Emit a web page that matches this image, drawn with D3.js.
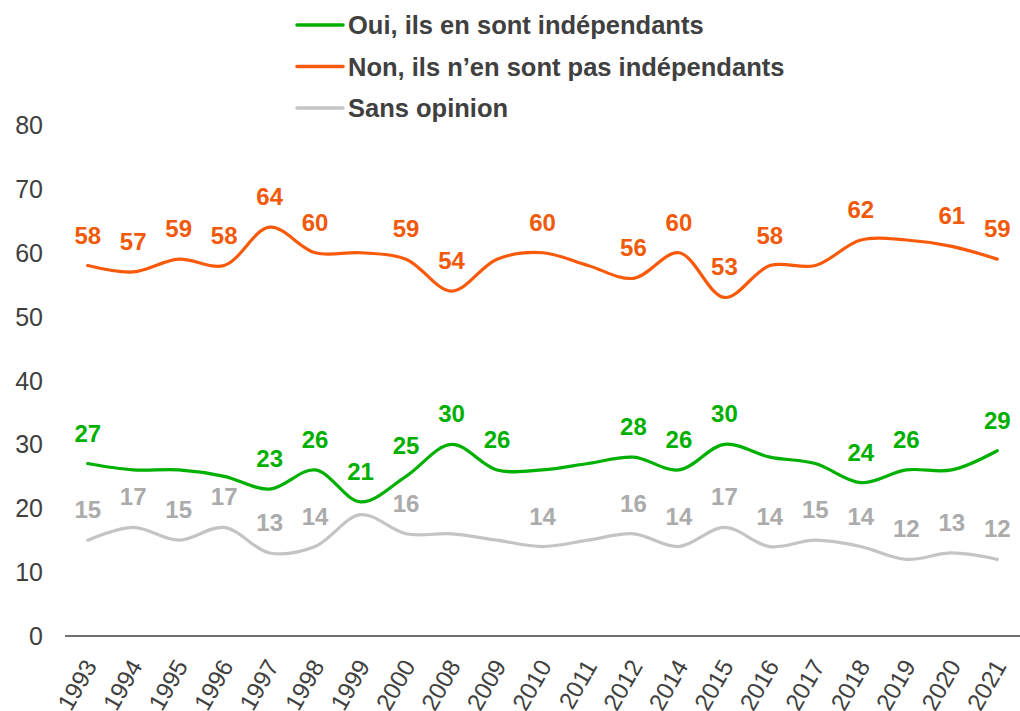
<!DOCTYPE html>
<html><head><meta charset="utf-8">
<script src="https://cdn.jsdelivr.net/npm/d3@7"></script>
<style>body{margin:0;background:#fff}svg{display:block;font-family:"Liberation Sans",Arial,sans-serif}</style>
</head><body><svg id="c" width="1020" height="711"></svg>
<script>
const years = ["1993","1994","1995","1996","1997","1998","1999","2000","2008","2009","2010","2011","2012","2014","2015","2016","2017","2018","2019","2020","2021"];
const oui = [27,26,26,25,23,26,21,25,30,26,26,27,28,26,30,28,27,24,26,26,29];
const non = [58,57,59,58,64,60,60,59,54,59,60,58,56,60,53,58,58,62,62,61,59];
const sans = [15,17,15,17,13,14,19,16,16,15,14,15,16,14,17,14,15,14,12,13,12];
const ouiLabels = [1,0,0,0,1,1,1,1,1,1,0,0,1,1,1,0,0,1,1,0,1];
const nonLabels = [1,1,1,1,1,1,0,1,1,0,1,0,1,1,1,1,0,1,0,1,1];
const sansLabels = [1,1,1,1,1,1,0,1,0,0,1,0,1,1,1,1,1,1,1,1,1];
const yTicks = [0,10,20,30,40,50,60,70,80];
const seriesNames = ["Oui, ils en sont indépendants","Non, ils n\u2019en sont pas indépendants","Sans opinion"];

const series = [
  {name: seriesNames[0], values: oui, labels: ouiLabels, color: "#00B000", labelColor: "#00B000"},
  {name: seriesNames[1], values: non, labels: nonLabels, color: "#F85A0A", labelColor: "#F05A0A"},
  {name: seriesNames[2], values: sans, labels: sansLabels, color: "#C4C4C4", labelColor: "#ABABAB"}
];

const svg = d3.select("#c");
const x = d3.scaleBand().domain(years).range([65, 1020]);
const y = d3.scaleLinear().domain([0, 80]).range([636, 125]);
const cx = d => x(d) + x.bandwidth() / 2;

// y axis labels
svg.append("g").selectAll("text").data(yTicks).join("text")
  .attr("x", 43).attr("y", d => y(d)).attr("dy", "0.36em")
  .attr("text-anchor", "end").attr("font-size", 25).attr("fill", "#404040")
  .text(d => d);

// x axis
const xAxis = svg.append("g").attr("transform", "translate(0,636)")
  .call(d3.axisBottom(x).tickSize(0).tickPadding(0));
xAxis.select(".domain").attr("stroke", "#404040").attr("stroke-width", 1.3).attr("d", "M65,0H1020");
xAxis.selectAll(".tick text")
  .attr("font-size", 24).attr("fill", "#404040").attr("font-family", "Liberation Sans, Arial, sans-serif")
  .attr("text-anchor", "end").attr("dy", 0).attr("y", 0)
  .attr("transform", "translate(10,30) rotate(-60)");

const line = d3.line().x((d, i) => cx(years[i])).y(d => y(d)).curve(d3.curveCatmullRom.alpha(0.5));

series.forEach(s => {
  svg.append("path").attr("d", line(s.values)).attr("fill", "none")
    .attr("stroke", s.color).attr("stroke-width", 3.2).attr("stroke-linecap", "round");
  svg.append("g").selectAll("text").data(s.values.map((v, i) => ({v, i})).filter(d => s.labels[d.i]))
    .join("text")
    .attr("x", d => cx(years[d.i])).attr("y", d => y(d.v) - 22)
    .attr("text-anchor", "middle").attr("font-size", 24).attr("font-weight", "bold")
    .attr("fill", s.labelColor).text(d => d.v);
});

// legend
const leg = svg.append("g");
series.forEach((s, i) => {
  const ly = 25 + i * 41.5;
  leg.append("line").attr("x1", 297).attr("x2", 343).attr("y1", ly).attr("y2", ly)
    .attr("stroke", s.color).attr("stroke-width", 3.5).attr("stroke-linecap", "round");
  leg.append("text").attr("x", 348).attr("y", ly).attr("dy", "0.36em")
    .attr("font-size", 25.5).attr("font-weight", "bold").attr("fill", "#404040").text(s.name);
});
</script></body></html>
